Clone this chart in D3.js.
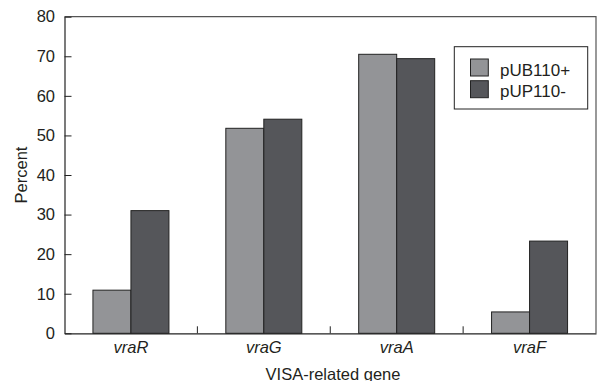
<!DOCTYPE html>
<html><head><meta charset="utf-8">
<script src="https://cdn.jsdelivr.net/npm/d3@7"></script>
<style>body{margin:0;background:#fff}svg{display:block}text{font-family:"Liberation Sans",Arial,sans-serif;fill:#231f20}</style>
</head><body><svg id="c" width="598" height="381"></svg>
<script>
const categories = ["vraR","vraG","vraA","vraF"];
const seriesNames = ["pUB110+","pUP110-"];
const pUB110plus = [10.9, 51.8, 70.5, 5.4];
const pUP110minus = [31.0, 54.1, 69.4, 23.3];
const yTicks = [0,10,20,30,40,50,60,70,80];
const colors = ["#939497","#55565a"];

const FS = 16.5;
const svg = d3.select("#c");
const m = {l:64.5, r:596, t:16.7, b:333.3};
const x = d3.scaleBand().domain(categories).range([m.l, m.r]).paddingInner(0).paddingOuter(0);
const y = d3.scaleLinear().domain([0,80]).range([m.b, m.t]);
const barW = 38;

// frame top/right
svg.append("path").attr("d",`M${m.l},${m.t}H${m.r}V${m.b}`).attr("fill","none").attr("stroke","#555").attr("stroke-width",1.2);

const series = [pUB110plus, pUP110minus];
series.forEach((vals,si)=>{
  svg.append("g").selectAll("rect").data(vals).join("rect")
    .attr("x",(d,i)=>x(categories[i]) + x.bandwidth()/2 - barW + si*barW)
    .attr("y",d=>y(d)).attr("width",barW).attr("height",d=>y(0)-y(d))
    .attr("fill",colors[si]).attr("stroke","#222").attr("stroke-width",1);
});

// y axis
const ya = svg.append("g").attr("transform",`translate(${m.l},0)`)
  .call(d3.axisLeft(y).tickValues(yTicks).tickSizeInner(-7).tickSizeOuter(0).tickPadding(9.5));
ya.select(".domain").attr("stroke","#222").attr("stroke-width",1.2);
ya.selectAll(".tick line").attr("stroke","#222");
ya.selectAll("text").attr("font-size",FS).attr("fill","#231f20").style("font-family","Liberation Sans, Arial, sans-serif");

// x axis
const xa = svg.append("g").attr("transform",`translate(0,${m.b})`)
  .call(d3.axisBottom(x).tickSize(0).tickPadding(8));
xa.select(".domain").attr("stroke","#222").attr("stroke-width",1.2);
xa.selectAll("text").attr("font-size",FS).attr("font-style","italic").attr("fill","#231f20").style("font-family","Liberation Sans, Arial, sans-serif");
// separator ticks between categories
const seps = categories.slice(1).map(c=>x(c));
svg.append("g").selectAll("line").data(seps).join("line")
  .attr("x1",d=>d).attr("x2",d=>d).attr("y1",m.b).attr("y2",m.b-7).attr("stroke","#222");

// axis titles
svg.append("text").attr("x",333).attr("y",379.5).attr("text-anchor","middle").attr("font-size",FS).text("VISA-related gene");
svg.append("text").attr("transform",`translate(26.5,${(m.t+m.b)/2}) rotate(-90)`).attr("text-anchor","middle").attr("font-size",FS).text("Percent");

// legend
const lg = svg.append("g");
lg.append("rect").attr("x",454.3).attr("y",46.7).attr("width",133.4).attr("height",62.3).attr("fill","#fff").attr("stroke","#222");
seriesNames.forEach((n,i)=>{
  lg.append("rect").attr("x",470.5).attr("y",59+i*21.7).attr("width",17.8).attr("height",17).attr("fill",colors[i]).attr("stroke","#222");
  lg.append("text").attr("x",500).attr("y",75.5+i*21).attr("font-size",17).text(n);
});
</script></body></html>
